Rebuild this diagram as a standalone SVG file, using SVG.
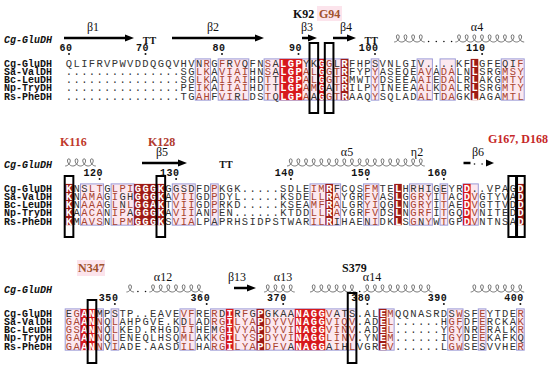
<svg xmlns="http://www.w3.org/2000/svg" width="550" height="369" viewBox="0 0 550 369">
<defs>
<style>
.seq{font-family:"Liberation Mono",monospace;font-size:10.5px;letter-spacing:1.35px;fill:#333}
.w{fill:#fff;font-weight:bold}
.r{fill:#A8432F}
.nm{font-family:"Liberation Mono",monospace;font-size:10px;font-weight:bold;fill:#111}
.it{font-style:italic}
.num{font-family:"Liberation Mono",monospace;font-size:10px;font-weight:bold;letter-spacing:0.6px;fill:#111}
.ss{font-family:"Liberation Serif",serif;font-size:12px;fill:#111;text-anchor:middle}
.tt{font-family:"Liberation Serif",serif;font-size:10px;font-weight:bold;fill:#111;text-anchor:middle}
.ann{font-family:"Liberation Serif",serif;font-size:12px;font-weight:bold}
.hx{fill:none;stroke:#555;stroke-width:0.8}
.fr{fill:#FCE8EF;stroke:#9B9BD8;stroke-width:1}
.a{fill:#D7191C}
.b{fill:#9E1B16}
.bx{fill:none;stroke:#000;stroke-width:2}
.ar{stroke:#000;stroke-width:2.5}
.dt{fill:#111}
</style>
</defs>
<rect width="550" height="369" fill="#fff"/>

<!-- ===== Block 1 ===== -->
<g id="block1">
<g id="b1-annot">
<text class="ann" x="293" y="17.5" fill="#111">K92</text>
<rect x="317" y="6" width="25" height="15" fill="#FCE4EC"/>
<text class="ann" x="319" y="17.5" fill="#A0522D">G94</text>
</g>
<g id="b1-ss">
<text class="ss" x="93" y="31">β1</text>
<text class="ss" x="213" y="31">β2</text>
<text class="ss" x="307" y="31">β3</text>
<text class="ss" x="346" y="31">β4</text>
<text class="ss" x="477" y="31">α4</text>
<line class="ar" x1="64" y1="38" x2="126" y2="38"/><polygon points="125,34.5 134,38 125,41.5"/>
<line class="ar" x1="172" y1="38" x2="256" y2="38"/><polygon points="255,34.5 264,38 255,41.5"/>
<line class="ar" x1="302" y1="38" x2="309" y2="38"/><polygon points="308,34.5 317,38 308,41.5"/>
<line class="ar" x1="333" y1="38" x2="348" y2="38"/><polygon points="347,34.5 356,38 347,41.5"/>
<text class="tt" x="149.4" y="43.5">TT</text>
<text class="tt" x="371.2" y="43.5">TT</text>
<path class="hx" d="M394.15 42c3 0 5.5-3.3 5-6c-.3-1.6-2.5-1.6-2.7 0c-.3 2.6 2 6 5.35 6c3 0 5.5-3.3 5-6c-.3-1.6-2.5-1.6-2.7 0c-.3 2.6 2 6 5.35 6c3 0 5.5-3.3 5-6c-.3-1.6-2.5-1.6-2.7 0c-.3 2.6 2 6 5.35 6c3 0 5.5-3.3 5-6c-.3-1.6-2.5-1.6-2.7 0c-.3 2.6 2 6 5.35 6m30.6 0c3 0 5.5-3.3 5-6c-.3-1.6-2.5-1.6-2.7 0c-.3 2.6 2 6 5.35 6c3 0 5.5-3.3 5-6c-.3-1.6-2.5-1.6-2.7 0c-.3 2.6 2 6 5.35 6c3 0 5.5-3.3 5-6c-.3-1.6-2.5-1.6-2.7 0c-.3 2.6 2 6 5.35 6c3 0 5.5-3.3 5-6c-.3-1.6-2.5-1.6-2.7 0c-.3 2.6 2 6 5.35 6c3 0 5.5-3.3 5-6c-.3-1.6-2.5-1.6-2.7 0c-.3 2.6 2 6 5.35 6c3 0 5.5-3.3 5-6c-.3-1.6-2.5-1.6-2.7 0c-.3 2.6 2 6 5.35 6c3 0 5.5-3.3 5-6c-.3-1.6-2.5-1.6-2.7 0c-.3 2.6 2 6 5.35 6c3 0 5.5-3.3 5-6c-.3-1.6-2.5-1.6-2.7 0c-.3 2.6 2 6 5.35 6c3 0 5.5-3.3 5-6c-.3-1.6-2.5-1.6-2.7 0c-.3 2.6 2 6 5.35 6"/>
<circle class="dt" cx="428.6" cy="41.5" r="0.8"/><circle class="dt" cx="436.3" cy="41.5" r="0.8"/><circle class="dt" cx="443.9" cy="41.5" r="0.8"/><circle class="dt" cx="451.6" cy="41.5" r="0.8"/>
</g>
<text class="nm it" x="4" y="42.5">Cg-GluDH</text>
<g id="b1-num">
<text class="num" x="59.4" y="50.5">60</text><circle class="dt" cx="69" cy="54" r="1"/>
<text class="num" x="135.9" y="50.5">70</text><circle class="dt" cx="145.5" cy="54" r="1"/>
<text class="num" x="212.4" y="50.5">80</text><circle class="dt" cx="222" cy="54" r="1"/>
<text class="num" x="288.9" y="50.5">90</text><circle class="dt" cx="298.5" cy="54" r="1"/>
<text class="num" x="358.8" y="50.5">100</text><circle class="dt" cx="375" cy="54" r="1"/>
<text class="num" x="465.9" y="50.5">110</text><circle class="dt" cx="482.1" cy="54" r="1"/>
</g>
<g id="b1-shade">
<rect class="fr" x="195.25" y="58.9" width="15.3" height="41.25"/>
<rect class="fr" x="218.2" y="58.9" width="30.6" height="41.25"/>
<rect class="fr" x="264.1" y="58.9" width="84.15" height="41.25"/>
<rect class="fr" x="371.2" y="58.9" width="7.65" height="41.25"/>
<rect class="fr" x="417.1" y="58.9" width="15.3" height="41.25"/>
<rect class="fr" x="440.05" y="58.9" width="15.3" height="41.25"/>
<rect class="fr" x="501.25" y="58.9" width="22.95" height="41.25"/>
<rect class="a" x="279.4" y="58.9" width="22.95" height="41.25"/>
<rect class="a" x="317.65" y="58.9" width="7.65" height="41.25"/>
<rect class="b" x="340.6" y="58.9" width="7.65" height="41.25"/>
<rect class="b" x="470.65" y="58.9" width="7.65" height="41.25"/>
</g>
<g id="b1-names">
<text class="nm" x="4" y="66.5">Cg-GluDH</text>
<text class="nm" x="4" y="74.75">Sa-ValDH</text>
<text class="nm" x="4" y="83">Bc-LeuDH</text>
<text class="nm" x="4" y="91.25">Np-TryDH</text>
<text class="nm" x="4" y="99.5">Rs-PheDH</text>
</g>
<g id="b1-seq">
<text class="seq" x="65.85" y="66.7">QLIFRVPWVDDQGQVHVN<tspan class="r">R</tspan>G<tspan class="r">F</tspan>R<tspan class="r">V</tspan>QFN<tspan class="r">S</tspan>A<tspan class="w">LGP</tspan>YK<tspan class="w">G</tspan><tspan class="r">G</tspan>L<tspan class="w">R</tspan>FHPSVNLGIV....KF<tspan class="w">L</tspan>GFEQI<tspan class="r">F</tspan></text>
<text class="seq" x="65.85" y="74.95">...............SG<tspan class="r">LK</tspan>A<tspan class="r">VIAI</tspan>HN<tspan class="r">S</tspan>A<tspan class="w">LGP</tspan><tspan class="r">AL</tspan><tspan class="w">G</tspan><tspan class="r">GT</tspan><tspan class="w">R</tspan>FYP<tspan class="r">Y</tspan>ASEQE<tspan class="r">AV</tspan>A<tspan class="r">DA</tspan>LN<tspan class="w">L</tspan>SRG<tspan class="r">MSY</tspan></text>
<text class="seq" x="65.85" y="83.2">...............SG<tspan class="r">LK</tspan>A<tspan class="r">IIAI</tspan>HD<tspan class="r">T</tspan>T<tspan class="w">LGP</tspan><tspan class="r">AL</tspan><tspan class="w">G</tspan><tspan class="r">GT</tspan><tspan class="w">R</tspan>MWT<tspan class="r">Y</tspan>DSEEA<tspan class="r">AI</tspan>E<tspan class="r">DA</tspan>LR<tspan class="w">L</tspan>AKG<tspan class="r">MTY</tspan></text>
<text class="seq" x="65.85" y="91.45">...............PE<tspan class="r">IK</tspan>A<tspan class="r">IIAI</tspan>HD<tspan class="r">T</tspan>T<tspan class="w">LGP</tspan><tspan class="r">AM</tspan><tspan class="w">G</tspan>A<tspan class="r">T</tspan><tspan class="w">R</tspan>ILP<tspan class="r">Y</tspan>INEEA<tspan class="r">AL</tspan>K<tspan class="r">DA</tspan>LR<tspan class="w">L</tspan>SRG<tspan class="r">MTY</tspan></text>
<text class="seq" x="65.85" y="99.7">...............TG<tspan class="r">AH</tspan>F<tspan class="r">VI</tspan>R<tspan class="r">L</tspan>DS<tspan class="r">T</tspan>Q<tspan class="w">LGP</tspan><tspan class="r">A</tspan>A<tspan class="w">G</tspan><tspan class="r">GT</tspan><tspan class="w">R</tspan>AAQ<tspan class="r">Y</tspan>SQLAD<tspan class="r">AL</tspan>T<tspan class="r">DA</tspan>GK<tspan class="w">L</tspan>AGA<tspan class="r">MTL</tspan></text>
</g>
<g id="b1-boxes">
<rect class="bx" x="309.5" y="43" width="8.65" height="70"/>
<rect class="bx" x="324.8" y="43" width="8.65" height="70"/>
</g>
</g>

<!-- ===== Block 2 ===== -->
<g id="block2">
<g id="b2-annot">
<text class="ann" x="60" y="145.5" fill="#C0392B">K116</text>
<text class="ann" x="148" y="145.5" fill="#B03A2E">K128</text>
<text class="ann" x="488" y="142.5" fill="#C62828">G167, D168</text>
</g>
<g id="b2-ss">
<text class="ss" x="162" y="156">β5</text>
<text class="ss" x="347" y="156">α5</text>
<text class="ss" x="417" y="156">η2</text>
<text class="ss" x="478" y="156">β6</text>
<line class="ar" x1="142" y1="163" x2="179" y2="163"/><polygon points="178,159.5 187,163 178,166.5"/>
<line class="ar" x1="463.5" y1="163" x2="470.5" y2="163"/><circle class="dt" cx="474.5" cy="164" r="0.8"/><circle class="dt" cx="482.1" cy="164" r="0.8"/><polygon points="486,159.5 494,163 486,166.5"/>
<text class="tt" x="225.9" y="167.5">TT</text>
<path class="hx" d="M65.2 166c3 0 5.5-3.3 5-6c-.3-1.6-2.5-1.6-2.7 0c-.3 2.6 2 6 5.35 6c3 0 5.5-3.3 5-6c-.3-1.6-2.5-1.6-2.7 0c-.3 2.6 2 6 5.35 6c3 0 5.5-3.3 5-6c-.3-1.6-2.5-1.6-2.7 0c-.3 2.6 2 6 5.35 6c3 0 5.5-3.3 5-6c-.3-1.6-2.5-1.6-2.7 0c-.3 2.6 2 6 5.35 6"/>
<path class="hx" d="M287.05 166c3 0 5.5-3.3 5-6c-.3-1.6-2.5-1.6-2.7 0c-.3 2.6 2 6 5.35 6c3 0 5.5-3.3 5-6c-.3-1.6-2.5-1.6-2.7 0c-.3 2.6 2 6 5.35 6c3 0 5.5-3.3 5-6c-.3-1.6-2.5-1.6-2.7 0c-.3 2.6 2 6 5.35 6c3 0 5.5-3.3 5-6c-.3-1.6-2.5-1.6-2.7 0c-.3 2.6 2 6 5.35 6c3 0 5.5-3.3 5-6c-.3-1.6-2.5-1.6-2.7 0c-.3 2.6 2 6 5.35 6c3 0 5.5-3.3 5-6c-.3-1.6-2.5-1.6-2.7 0c-.3 2.6 2 6 5.35 6c3 0 5.5-3.3 5-6c-.3-1.6-2.5-1.6-2.7 0c-.3 2.6 2 6 5.35 6c3 0 5.5-3.3 5-6c-.3-1.6-2.5-1.6-2.7 0c-.3 2.6 2 6 5.35 6c3 0 5.5-3.3 5-6c-.3-1.6-2.5-1.6-2.7 0c-.3 2.6 2 6 5.35 6c3 0 5.5-3.3 5-6c-.3-1.6-2.5-1.6-2.7 0c-.3 2.6 2 6 5.35 6c3 0 5.5-3.3 5-6c-.3-1.6-2.5-1.6-2.7 0c-.3 2.6 2 6 5.35 6c3 0 5.5-3.3 5-6c-.3-1.6-2.5-1.6-2.7 0c-.3 2.6 2 6 5.35 6c3 0 5.5-3.3 5-6c-.3-1.6-2.5-1.6-2.7 0c-.3 2.6 2 6 5.35 6c3 0 5.5-3.3 5-6c-.3-1.6-2.5-1.6-2.7 0c-.3 2.6 2 6 5.35 6c3 0 5.5-3.3 5-6c-.3-1.6-2.5-1.6-2.7 0c-.3 2.6 2 6 5.35 6c3 0 5.5-3.3 5-6c-.3-1.6-2.5-1.6-2.7 0c-.3 2.6 2 6 5.35 6c3 0 5.5-3.3 5-6c-.3-1.6-2.5-1.6-2.7 0c-.3 2.6 2 6 5.35 6c3 0 5.5-3.3 5-6c-.3-1.6-2.5-1.6-2.7 0c-.3 2.6 2 6 5.35 6"/>
</g>
<text class="nm it" x="4" y="167.5">Cg-GluDH</text>
<g id="b2-num">
<text class="num" x="83.4" y="175.5">120</text><circle class="dt" cx="99.6" cy="179" r="1"/>
<text class="num" x="159.9" y="175.5">130</text><circle class="dt" cx="176.1" cy="179" r="1"/>
<text class="num" x="274.65" y="175.5">140</text><circle class="dt" cx="290.85" cy="179" r="1"/>
<text class="num" x="351.15" y="175.5">150</text><circle class="dt" cx="367.35" cy="179" r="1"/>
<text class="num" x="427.65" y="175.5">160</text><circle class="dt" cx="443.85" cy="179" r="1"/>
</g>
<g id="b2-shade">
<rect class="fr" x="80.5" y="183.9" width="22.95" height="41.25"/>
<rect class="fr" x="111.1" y="183.9" width="22.95" height="41.25"/>
<rect class="fr" x="172.3" y="183.9" width="22.95" height="41.25"/>
<rect class="fr" x="210.55" y="183.9" width="7.65" height="41.25"/>
<rect class="fr" x="310" y="183.9" width="30.6" height="41.25"/>
<rect class="fr" x="363.55" y="183.9" width="15.3" height="41.25"/>
<rect class="fr" x="409.45" y="183.9" width="22.95" height="41.25"/>
<rect class="fr" x="440.05" y="183.9" width="7.65" height="41.25"/>
<rect class="fr" x="463" y="183.9" width="15.3" height="41.25"/>
<rect class="b" x="65.2" y="183.9" width="7.65" height="41.25"/>
<rect class="b" x="134.05" y="183.9" width="30.6" height="41.25"/>
<rect class="b" x="325.3" y="183.9" width="7.65" height="41.25"/>
<rect class="b" x="394.15" y="183.9" width="7.65" height="41.25"/>
<rect class="a" x="463" y="183.9" width="7.65" height="41.25"/>
<rect class="b" x="516.55" y="183.9" width="7.65" height="41.25"/>
</g>
<g id="b2-names">
<text class="nm" x="4" y="191.5">Cg-GluDH</text>
<text class="nm" x="4" y="199.75">Sa-ValDH</text>
<text class="nm" x="4" y="208">Bc-LeuDH</text>
<text class="nm" x="4" y="216.25">Np-TryDH</text>
<text class="nm" x="4" y="224.5">Rs-PheDH</text>
</g>
<g id="b2-seq">
<text class="seq" x="65.85" y="191.7"><tspan class="w">K</tspan>NS<tspan class="r">LT</tspan>G<tspan class="r">LPI</tspan><tspan class="w">GGGK</tspan>GGSDFD<tspan class="r">P</tspan>KGK.....SDLE<tspan class="r">IM</tspan><tspan class="w">R</tspan>FCQS<tspan class="r">FM</tspan>TE<tspan class="w">L</tspan>HRHIGEYR<tspan class="w">D</tspan>..VPAG<tspan class="w">D</tspan></text>
<text class="seq" x="65.85" y="199.95"><tspan class="w">K</tspan>N<tspan class="r">AMA</tspan>G<tspan class="r">I</tspan>GH<tspan class="w">GGGK</tspan>A<tspan class="r">VII</tspan>GD<tspan class="r">P</tspan>DYL.....KSDE<tspan class="r">LL</tspan><tspan class="w">R</tspan><tspan class="r">A</tspan>YGR<tspan class="r">FV</tspan>AS<tspan class="w">L</tspan>G<tspan class="r">GRY</tspan>I<tspan class="r">T</tspan>AC<tspan class="w">D</tspan><tspan class="r">V</tspan>GTYVA<tspan class="w">D</tspan></text>
<text class="seq" x="65.85" y="208.2"><tspan class="w">K</tspan>N<tspan class="r">AAA</tspan>G<tspan class="r">L</tspan>N<tspan class="r">L</tspan><tspan class="w">GGAK</tspan>T<tspan class="r">VII</tspan>GD<tspan class="r">P</tspan>RKD.....KSEA<tspan class="r">MF</tspan><tspan class="w">R</tspan><tspan class="r">A</tspan>LGR<tspan class="r">YI</tspan>QG<tspan class="w">L</tspan>N<tspan class="r">GRY</tspan>I<tspan class="r">T</tspan>AE<tspan class="w">D</tspan><tspan class="r">V</tspan>GTTVD<tspan class="w">D</tspan></text>
<text class="seq" x="65.85" y="216.45"><tspan class="w">K</tspan>A<tspan class="r">ACA</tspan>N<tspan class="r">IP</tspan>A<tspan class="w">GGGK</tspan>A<tspan class="r">VII</tspan>AN<tspan class="r">P</tspan>EN......KTDD<tspan class="r">LL</tspan><tspan class="w">R</tspan><tspan class="r">A</tspan>YGR<tspan class="r">FV</tspan>DS<tspan class="w">L</tspan>N<tspan class="r">GRF</tspan>I<tspan class="r">T</tspan>GQ<tspan class="w">D</tspan><tspan class="r">V</tspan>NITED<tspan class="w">D</tspan></text>
<text class="seq" x="65.85" y="224.7"><tspan class="w">K</tspan>M<tspan class="r">AVS</tspan>N<tspan class="r">LPM</tspan><tspan class="w">GGGK</tspan>S<tspan class="r">VIA</tspan>LPAPRHSIDPSTWAR<tspan class="r">IL</tspan><tspan class="w">R</tspan>IHAEN<tspan class="r">I</tspan>DK<tspan class="w">L</tspan>S<tspan class="r">G</tspan>N<tspan class="r">Y</tspan>W<tspan class="r">T</tspan>GP<tspan class="w">D</tspan><tspan class="r">V</tspan>NTNSA<tspan class="w">D</tspan></text>
</g>
<g id="b2-boxes">
<rect class="bx" x="64.7" y="176" width="8.65" height="61"/>
<rect class="bx" x="156.5" y="176" width="8.65" height="61"/>
<rect class="bx" x="508.4" y="176" width="8.65" height="61"/>
<rect class="bx" x="516.05" y="176" width="8.65" height="61"/>
</g>
</g>

<!-- ===== Block 3 ===== -->
<g id="block3">
<g id="b3-annot">
<rect x="77" y="260" width="28" height="16" fill="#FCE4EC"/>
<text class="ann" x="78" y="271.5" fill="#A0522D">N347</text>
<text class="ann" x="342" y="271.5" fill="#111">S379</text>
</g>
<g id="b3-ss">
<text class="ss" x="163" y="281">α12</text>
<text class="ss" x="237" y="281">β13</text>
<text class="ss" x="283" y="281">α13</text>
<text class="ss" x="372" y="281">α14</text>
<line class="ar" x1="234" y1="288" x2="248" y2="288"/><polygon points="247,284.5 256,288 247,291.5"/>
<path class="hx" d="M126.4 292c3 0 5.5-3.3 5-6c-.3-1.6-2.5-1.6-2.7 0c-.3 2.6 2 6 5.35 6m15.3 0c3 0 5.5-3.3 5-6c-.3-1.6-2.5-1.6-2.7 0c-.3 2.6 2 6 5.35 6c3 0 5.5-3.3 5-6c-.3-1.6-2.5-1.6-2.7 0c-.3 2.6 2 6 5.35 6c3 0 5.5-3.3 5-6c-.3-1.6-2.5-1.6-2.7 0c-.3 2.6 2 6 5.35 6c3 0 5.5-3.3 5-6c-.3-1.6-2.5-1.6-2.7 0c-.3 2.6 2 6 5.35 6c3 0 5.5-3.3 5-6c-.3-1.6-2.5-1.6-2.7 0c-.3 2.6 2 6 5.35 6c3 0 5.5-3.3 5-6c-.3-1.6-2.5-1.6-2.7 0c-.3 2.6 2 6 5.35 6c3 0 5.5-3.3 5-6c-.3-1.6-2.5-1.6-2.7 0c-.3 2.6 2 6 5.35 6"/>
<circle class="dt" cx="137.9" cy="291.5" r="0.8"/><circle class="dt" cx="145.55" cy="291.5" r="0.8"/>
<path class="hx" d="M264.1 292c3 0 5.5-3.3 5-6c-.3-1.6-2.5-1.6-2.7 0c-.3 2.6 2 6 5.35 6c3 0 5.5-3.3 5-6c-.3-1.6-2.5-1.6-2.7 0c-.3 2.6 2 6 5.35 6c3 0 5.5-3.3 5-6c-.3-1.6-2.5-1.6-2.7 0c-.3 2.6 2 6 5.35 6c3 0 5.5-3.3 5-6c-.3-1.6-2.5-1.6-2.7 0c-.3 2.6 2 6 5.35 6"/>
<path class="hx" d="M310 292c3 0 5.5-3.3 5-6c-.3-1.6-2.5-1.6-2.7 0c-.3 2.6 2 6 5.35 6c3 0 5.5-3.3 5-6c-.3-1.6-2.5-1.6-2.7 0c-.3 2.6 2 6 5.35 6c3 0 5.5-3.3 5-6c-.3-1.6-2.5-1.6-2.7 0c-.3 2.6 2 6 5.35 6c3 0 5.5-3.3 5-6c-.3-1.6-2.5-1.6-2.7 0c-.3 2.6 2 6 5.35 6c3 0 5.5-3.3 5-6c-.3-1.6-2.5-1.6-2.7 0c-.3 2.6 2 6 5.35 6c3 0 5.5-3.3 5-6c-.3-1.6-2.5-1.6-2.7 0c-.3 2.6 2 6 5.35 6m7.65 0c3 0 5.5-3.3 5-6c-.3-1.6-2.5-1.6-2.7 0c-.3 2.6 2 6 5.35 6c3 0 5.5-3.3 5-6c-.3-1.6-2.5-1.6-2.7 0c-.3 2.6 2 6 5.35 6c3 0 5.5-3.3 5-6c-.3-1.6-2.5-1.6-2.7 0c-.3 2.6 2 6 5.35 6c3 0 5.5-3.3 5-6c-.3-1.6-2.5-1.6-2.7 0c-.3 2.6 2 6 5.35 6c3 0 5.5-3.3 5-6c-.3-1.6-2.5-1.6-2.7 0c-.3 2.6 2 6 5.35 6c3 0 5.5-3.3 5-6c-.3-1.6-2.5-1.6-2.7 0c-.3 2.6 2 6 5.35 6c3 0 5.5-3.3 5-6c-.3-1.6-2.5-1.6-2.7 0c-.3 2.6 2 6 5.35 6c3 0 5.5-3.3 5-6c-.3-1.6-2.5-1.6-2.7 0c-.3 2.6 2 6 5.35 6c3 0 5.5-3.3 5-6c-.3-1.6-2.5-1.6-2.7 0c-.3 2.6 2 6 5.35 6"/>
<circle class="dt" cx="359.7" cy="291.5" r="0.8"/>
<path class="hx" d="M470.65 292c3 0 5.5-3.3 5-6c-.3-1.6-2.5-1.6-2.7 0c-.3 2.6 2 6 5.35 6c3 0 5.5-3.3 5-6c-.3-1.6-2.5-1.6-2.7 0c-.3 2.6 2 6 5.35 6c3 0 5.5-3.3 5-6c-.3-1.6-2.5-1.6-2.7 0c-.3 2.6 2 6 5.35 6c3 0 5.5-3.3 5-6c-.3-1.6-2.5-1.6-2.7 0c-.3 2.6 2 6 5.35 6c3 0 5.5-3.3 5-6c-.3-1.6-2.5-1.6-2.7 0c-.3 2.6 2 6 5.35 6c3 0 5.5-3.3 5-6c-.3-1.6-2.5-1.6-2.7 0c-.3 2.6 2 6 5.35 6c3 0 5.5-3.3 5-6c-.3-1.6-2.5-1.6-2.7 0c-.3 2.6 2 6 5.35 6"/>
</g>
<text class="nm it" x="4" y="292.5">Cg-GluDH</text>
<g id="b3-num">
<text class="num" x="98.7" y="300.5">350</text><circle class="dt" cx="114.9" cy="304" r="1"/>
<text class="num" x="190.5" y="300.5">360</text><circle class="dt" cx="206.7" cy="304" r="1"/>
<text class="num" x="267" y="300.5">370</text><circle class="dt" cx="283.2" cy="304" r="1"/>
<text class="num" x="351.15" y="300.5">380</text><circle class="dt" cx="367.35" cy="304" r="1"/>
<text class="num" x="427.65" y="300.5">390</text><circle class="dt" cx="443.85" cy="304" r="1"/>
<text class="num" x="504.15" y="300.5">400</text><circle class="dt" cx="520.35" cy="304" r="1"/>
</g>
<g id="b3-shade">
<rect class="fr" x="65.2" y="308.9" width="15.3" height="41.25"/>
<rect class="fr" x="95.8" y="308.9" width="7.65" height="41.25"/>
<rect class="fr" x="111.1" y="308.9" width="7.65" height="41.25"/>
<rect class="fr" x="179.95" y="308.9" width="15.3" height="41.25"/>
<rect class="fr" x="210.55" y="308.9" width="145.35" height="41.25"/>
<rect class="fr" x="378.85" y="308.9" width="15.3" height="41.25"/>
<rect class="fr" x="447.7" y="308.9" width="15.3" height="41.25"/>
<rect class="fr" x="478.3" y="308.9" width="7.65" height="41.25"/>
<rect class="fr" x="516.55" y="308.9" width="7.65" height="41.25"/>
<rect class="a" x="80.5" y="308.9" width="15.3" height="41.25"/>
<rect class="a" x="225.85" y="308.9" width="7.65" height="41.25"/>
<rect class="b" x="256.45" y="308.9" width="7.65" height="41.25"/>
<rect class="a" x="294.7" y="308.9" width="30.6" height="41.25"/>
<rect class="b" x="378.85" y="308.9" width="7.65" height="41.25"/>
</g>
<g id="b3-names">
<text class="nm" x="4" y="316.5">Cg-GluDH</text>
<text class="nm" x="4" y="324.75">Sa-ValDH</text>
<text class="nm" x="4" y="333">Bc-LeuDH</text>
<text class="nm" x="4" y="341.25">Np-TryDH</text>
<text class="nm" x="4" y="349.5">Rs-PheDH</text>
</g>
<g id="b3-seq">
<text class="seq" x="65.85" y="316.7">E<tspan class="r">G</tspan><tspan class="w">AN</tspan>MPSTP..EAVE<tspan class="r">VF</tspan>RE<tspan class="r">R</tspan>D<tspan class="w">I</tspan>R<tspan class="r">F</tspan>G<tspan class="w">P</tspan>GKAA<tspan class="w">NAGG</tspan><tspan class="r">V</tspan>ATS.AL<tspan class="w">E</tspan><tspan class="r">M</tspan>QQNASRDS<tspan class="r">W</tspan>SF<tspan class="r">E</tspan>YTDE<tspan class="r">R</tspan></text>
<text class="seq" x="65.85" y="324.95"><tspan class="r">GA</tspan><tspan class="w">AN</tspan><tspan class="r">N</tspan>Q<tspan class="r">L</tspan>AHPGVE.KD<tspan class="r">L</tspan>AD<tspan class="r">RG</tspan><tspan class="w">I</tspan><tspan class="r">LYA</tspan><tspan class="w">P</tspan><tspan class="r">DYVV</tspan><tspan class="w">NAGG</tspan><tspan class="r">VIQV</tspan>.AD<tspan class="w">E</tspan><tspan class="r">L</tspan>......H<tspan class="r">GF</tspan>DF<tspan class="r">E</tspan>RCKA<tspan class="r">K</tspan></text>
<text class="seq" x="65.85" y="333.2"><tspan class="r">GS</tspan><tspan class="w">AN</tspan><tspan class="r">N</tspan>Q<tspan class="r">L</tspan>KED.RHGD<tspan class="r">II</tspan>HEM<tspan class="r">G</tspan><tspan class="w">I</tspan><tspan class="r">VYA</tspan><tspan class="w">P</tspan><tspan class="r">DYVI</tspan><tspan class="w">NAGG</tspan><tspan class="r">VINV</tspan>.AD<tspan class="w">E</tspan><tspan class="r">L</tspan>......Y<tspan class="r">GY</tspan>NR<tspan class="r">E</tspan>RALK<tspan class="r">R</tspan></text>
<text class="seq" x="65.85" y="341.45"><tspan class="r">GA</tspan><tspan class="w">AN</tspan><tspan class="r">N</tspan>Q<tspan class="r">L</tspan>ENEQLHSQ<tspan class="r">ML</tspan>AK<tspan class="r">KG</tspan><tspan class="w">I</tspan><tspan class="r">LYS</tspan><tspan class="w">P</tspan><tspan class="r">DYVI</tspan><tspan class="w">NAGG</tspan><tspan class="r">LINV</tspan>.YN<tspan class="w">E</tspan><tspan class="r">M</tspan>......I<tspan class="r">GY</tspan>DE<tspan class="r">E</tspan>KAFKQ</text>
<text class="seq" x="65.85" y="349.7"><tspan class="r">GA</tspan><tspan class="w">AN</tspan><tspan class="r">N</tspan>V<tspan class="r">I</tspan>ADE.AASD<tspan class="r">IL</tspan>HA<tspan class="r">RG</tspan><tspan class="w">I</tspan><tspan class="r">LYA</tspan><tspan class="w">P</tspan><tspan class="r">DFV</tspan>A<tspan class="w">NAGG</tspan>A<tspan class="r">I</tspan>H<tspan class="r">L</tspan>VGR<tspan class="w">E</tspan><tspan class="r">V</tspan>......L<tspan class="r">GW</tspan>SESVVHE<tspan class="r">R</tspan></text>
</g>
<g id="b3-boxes">
<rect class="bx" x="87.65" y="300" width="8.65" height="63"/>
<rect class="bx" x="347.75" y="293" width="8.65" height="70"/>
</g>
</g>
</svg>
